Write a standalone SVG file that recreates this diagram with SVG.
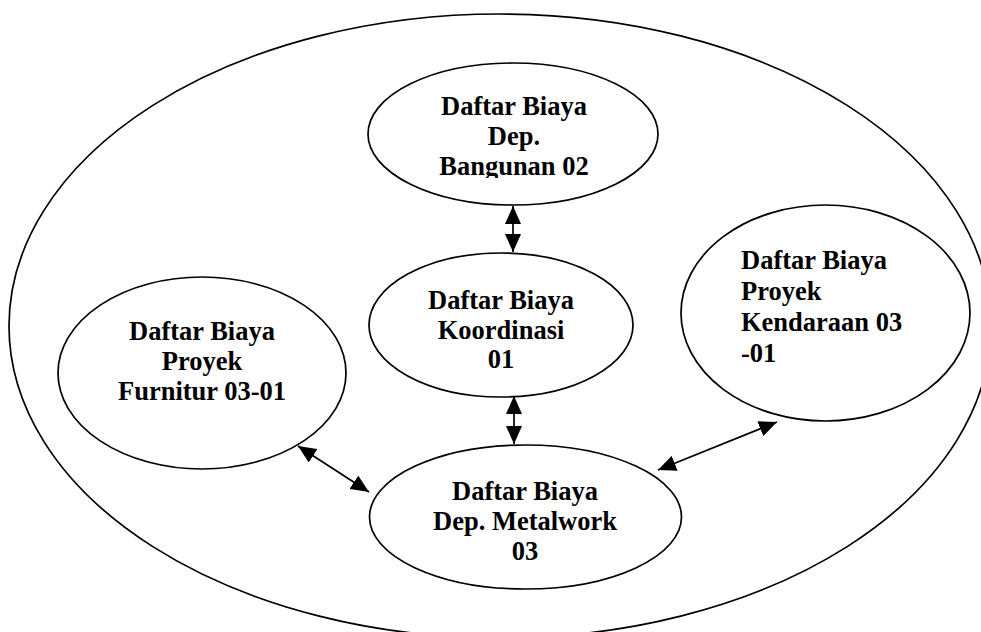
<svg xmlns="http://www.w3.org/2000/svg" width="981" height="632" viewBox="0 0 981 632">
  <style>
    .shape { fill: #fff; stroke: #000; stroke-width: 1.7; }
    .outer { fill: none; stroke: #000; stroke-width: 1.7; }
    .label { font-family: "Liberation Serif", "Times New Roman", serif; font-weight: bold; font-size: 26.5px; fill: #000; }
    .mid { text-anchor: middle; }
    .link { stroke: #000; stroke-width: 1.7; fill: none; marker-start: url(#head); marker-end: url(#head); }
  </style>
  <defs>
    <marker id="head" viewBox="0 0 18 16" refX="18" refY="8" markerWidth="18" markerHeight="16" markerUnits="userSpaceOnUse" orient="auto-start-reverse">
      <path d="M0,0 L18,8 L0,16 z" fill="#000"/>
    </marker>
    <clipPath id="clip-bangunan">
      <rect x="380" y="70" width="270" height="108"/>
    </clipPath>
  </defs>

  <rect width="981" height="632" fill="#fff"/>

  <!-- enclosing boundary -->
  <ellipse id="boundary" class="outer" cx="500" cy="326" rx="491" ry="312"/>

  <!-- connectors -->
  <g id="connectors">
    <line class="link" x1="513" y1="206" x2="513" y2="252"/>
    <line class="link" x1="514" y1="396" x2="514" y2="444"/>
    <line class="link" x1="298" y1="446" x2="369" y2="492"/>
    <line class="link" x1="777" y1="422" x2="658" y2="470"/>
  </g>

  <g id="bangunan">
    <ellipse class="shape" cx="513" cy="134" rx="145" ry="71"/>
    <g clip-path="url(#clip-bangunan)">
      <text class="label mid" x="514" y="115">Daftar Biaya</text>
      <text class="label mid" x="514" y="145">Dep.</text>
      <text class="label mid" x="514" y="175">Bangunan 02</text>
    </g>
  </g>

  <g id="koordinasi">
    <ellipse class="shape" cx="501" cy="325" rx="132" ry="72"/>
    <text class="label mid" x="501" y="309">Daftar Biaya</text>
    <text class="label mid" x="501" y="339">Koordinasi</text>
    <text class="label mid" x="501" y="368">01</text>
  </g>

  <g id="furnitur">
    <ellipse class="shape" cx="202" cy="373" rx="144" ry="96"/>
    <text class="label mid" x="202" y="340">Daftar Biaya</text>
    <text class="label mid" x="202" y="370">Proyek</text>
    <text class="label mid" x="202" y="400">Furnitur 03-01</text>
  </g>

  <g id="kendaraan">
    <ellipse class="shape" cx="825.5" cy="313" rx="144.5" ry="108"/>
    <text class="label" x="741" y="269">Daftar Biaya</text>
    <text class="label" x="741" y="300">Proyek</text>
    <text class="label" x="741" y="331">Kendaraan 03</text>
    <text class="label" x="741" y="362">-01</text>
  </g>

  <g id="metalwork">
    <ellipse class="shape" cx="525.5" cy="517" rx="156" ry="72"/>
    <text class="label mid" x="525" y="500">Daftar Biaya</text>
    <text class="label mid" x="525" y="530">Dep. Metalwork</text>
    <text class="label mid" x="525" y="560">03</text>
  </g>
</svg>
